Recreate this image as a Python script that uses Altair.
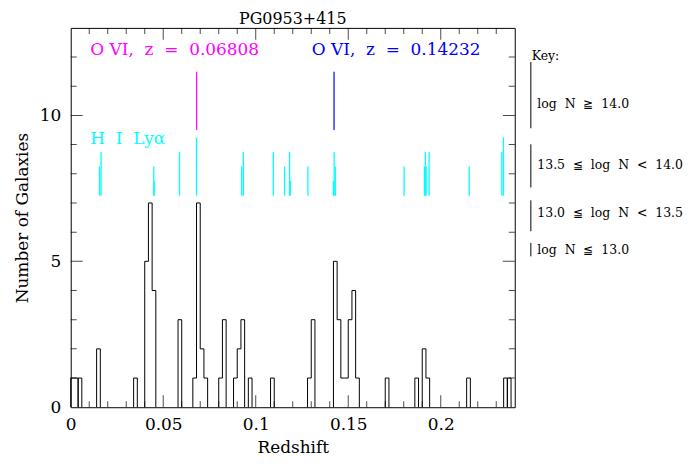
import altair as alt
import pandas as pd

FONT = "DejaVu Serif"
SP = "\u00a0"  # non-collapsing space for the wide spacing of the original lettering

# ---------------- data ----------------
BIN_WIDTH = 0.002
# histogram drawn as separate step "runs": first bin index of each run and its counts
run_start_bins = [0, 2, 7, 17, 20, 29, 33, 40, 44, 48, 54, 64, 71, 85, 93, 95, 107, 117, 118]
run_counts = [[1, 1], [1], [2], [1], [5, 7, 4], [3], [1, 7, 2, 1], [1, 3], [1, 2, 3], [1], [1],
              [1, 3], [5, 3, 1, 1, 3, 4, 1], [1], [1], [2, 1], [1], [1], [1]]

# H I Ly-alpha absorbers: redshift and column-density class (0: <=13.0, 1: 13.0-13.5, 2: 13.5-14.0, 3: >=14.0)
lya_z = [0.0156, 0.0164, 0.0449, 0.0451, 0.0588, 0.0680, 0.0924, 0.0933, 0.1095, 0.1156,
         0.1183, 0.1187, 0.1282, 0.1420, 0.1424, 0.1430, 0.1802, 0.1912, 0.1917, 0.1921,
         0.1937, 0.2154, 0.2330, 0.2339]
lya_class = [1, 2, 1, 0, 2, 3, 1, 2, 2, 1,
             2, 0, 1, 0, 2, 1, 1, 1, 2, 1,
             2, 1, 2, 3]

ovi_z = [0.06808, 0.14232]
ovi_labels = ["O VI,  z  =  0.06808", "O VI,  z  =  0.14232"]
ovi_colors = ["#ff00ff", "#0000ff"]

key_labels = ["log  N  \u2267  14.0", "13.5  \u2266  log  N  <  14.0",
              "13.0  \u2266  log  N  <  13.5", "log  N  \u2266  13.0"]

x_labels = [0, 0.05, 0.1, 0.15, 0.2]
x_major = [0.05, 0.1, 0.15, 0.2]
x_minor = [0.01, 0.02, 0.03, 0.04, 0.06, 0.07, 0.08, 0.09, 0.11, 0.12, 0.13, 0.14,
           0.16, 0.17, 0.18, 0.19, 0.21, 0.22, 0.23]
y_labels = [0, 5, 10]
y_major = [5, 10]
y_minor = [1, 2, 3, 4, 6, 7, 8, 9, 11, 12]


def wide(s):
    return s.replace(" ", SP)


# ---------------- layout constants ----------------
XMAX, YMAX = 0.24, 13
LYA_BASE = 7.25
LYA_LEN = [0.5, 1.0, 1.5, 2.0]
OVI_Y = (9.5, 11.5)

# ---------------- tables ----------------
rows = []
for r, (k0, counts) in enumerate(zip(run_start_bins, run_counts)):
    i = 0
    rows.append(dict(run=r, i=i, x=k0 * BIN_WIDTH, y=0)); i += 1
    for j, c in enumerate(counts):
        xa = (k0 + j) * BIN_WIDTH
        rows.append(dict(run=r, i=i, x=xa, y=c)); i += 1
        rows.append(dict(run=r, i=i, x=xa + BIN_WIDTH, y=c)); i += 1
    rows.append(dict(run=r, i=i, x=(k0 + len(counts)) * BIN_WIDTH, y=0))
hist_df = pd.DataFrame(rows)

lya_df = pd.DataFrame({"x": lya_z,
                       "y": [LYA_BASE] * len(lya_z),
                       "y2": [LYA_BASE + LYA_LEN[c] for c in lya_class]})

ovi_df = pd.DataFrame({"x": ovi_z, "y": [OVI_Y[0]] * 2, "y2": [OVI_Y[1]] * 2, "c": ovi_colors})
ovi_txt_df = pd.DataFrame({"x": [0.0106, 0.1303], "y": [12.23, 12.23],
                           "t": [wide(s) for s in ovi_labels], "c": ovi_colors})

xt = ([dict(x=v, y=yy, s=24) for v in x_major for yy in (0, YMAX)] +
      [dict(x=v, y=yy, s=12) for v in x_minor for yy in (0, YMAX)])
yt = ([dict(x=xx, y=v, s=24) for v in y_major for xx in (0, XMAX)] +
      [dict(x=xx, y=v, s=12) for v in y_minor for xx in (0, XMAX)])
xt_df = pd.DataFrame(xt)
yt_df = pd.DataFrame(yt)

key_lines = pd.DataFrame({"x": [0.2487] * 4, "y": [9.56, 7.53, 6.03, 5.17], "y2": [11.83, 9.01, 7.09, 5.63]})
key_txt = pd.DataFrame({"x": [0.2522] * 4, "y": [10.4, 8.3, 6.65, 5.4], "t": [wide(s) for s in key_labels]})

# ---------------- encodings ----------------
X = alt.X("x:Q", scale=alt.Scale(domain=[0, XMAX], nice=False, zero=False),
          axis=alt.Axis(values=x_labels, format="~g", title="Redshift", ticks=False, domain=False,
                        grid=False, labelPadding=9, titlePadding=7, labelFlush=False))
Y = alt.Y("y:Q", scale=alt.Scale(domain=[0, YMAX], nice=False, zero=False),
          axis=alt.Axis(values=y_labels, title="Number of Galaxies", ticks=False, domain=False,
                        grid=False, labelPadding=10, titlePadding=8, labelFlush=False))

hist = alt.Chart(hist_df).mark_line(color="black", strokeWidth=1).encode(
    x=X, y=Y, detail="run:N", order="i:Q")

lya = alt.Chart(lya_df).mark_rule(color="#00ffff", strokeWidth=1.3).encode(x=X, y=Y, y2="y2:Q")

ovi = alt.Chart(ovi_df).mark_rule(strokeWidth=1.2).encode(
    x=X, y=Y, y2="y2:Q", color=alt.Color("c:N", scale=None))

ovi_txt = alt.Chart(ovi_txt_df).mark_text(font=FONT, fontSize=17, align="left", baseline="middle").encode(
    x=X, y=Y, text="t:N", color=alt.Color("c:N", scale=None))

hi_txt = alt.Chart(pd.DataFrame({"x": [0.0106], "y": [9.19], "t": [wide("H  I  Ly\u03b1")]})).mark_text(
    font=FONT, fontSize=17, align="left", baseline="middle", color="#00ffff").encode(x=X, y=Y, text="t:N")

xticks = alt.Chart(xt_df).mark_tick(orient="vertical", clip=True, color="black", thickness=1).encode(
    x=X, y=Y, size=alt.Size("s:Q", scale=None))
yticks = alt.Chart(yt_df).mark_tick(orient="horizontal", clip=True, color="black", thickness=1).encode(
    x=X, y=Y, size=alt.Size("s:Q", scale=None))

key_title = alt.Chart(pd.DataFrame({"x": [0.2492], "y": [12.04], "t": ["Key:"]})).mark_text(
    font=FONT, fontSize=12.5, align="left", baseline="middle", color="black").encode(x=X, y=Y, text="t:N")
key_rules = alt.Chart(key_lines).mark_rule(color="black", strokeWidth=1).encode(x=X, y=Y, y2="y2:Q")
key_labels_ch = alt.Chart(key_txt).mark_text(
    font=FONT, fontSize=12.5, align="left", baseline="middle", color="black").encode(x=X, y=Y, text="t:N")

chart = alt.layer(hist, lya, ovi, ovi_txt, hi_txt, xticks, yticks, key_title, key_rules, key_labels_ch).properties(
    width=446, height=381,
    padding={"left": 63, "top": 19, "right": 170, "bottom": 48},
    autosize=alt.AutoSizeParams(type="none"),
    background="white",
    title=alt.Title("PG0953+415", font=FONT, fontSize=16, fontWeight="normal", color="black",
                    anchor="middle", offset=1),
).configure_view(stroke="black", strokeWidth=1).configure_axis(
    labelFont=FONT, titleFont=FONT, labelFontSize=17, titleFontSize=17, titleFontWeight="normal",
    labelColor="black", titleColor="black"
)

chart.save("out.html", embed_options={"renderer": "svg", "actions": False})
